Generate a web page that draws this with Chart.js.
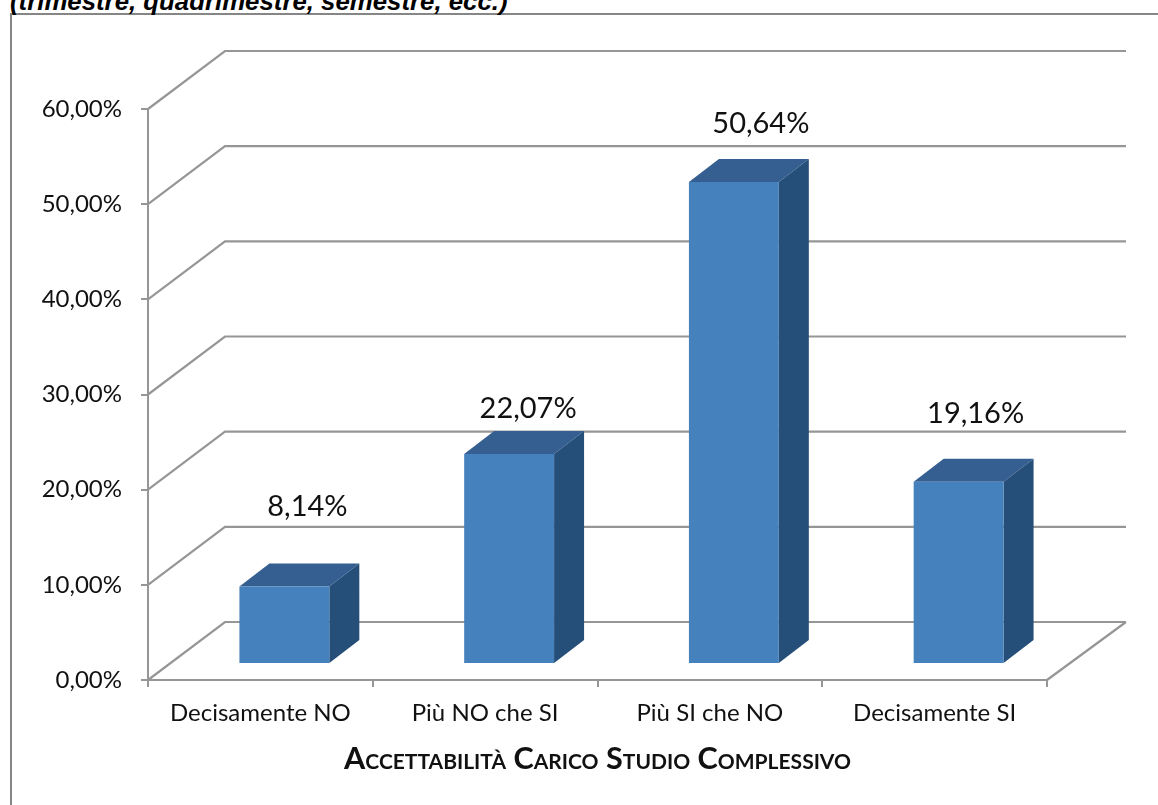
<!DOCTYPE html>
<html>
<head>
<meta charset="utf-8">
<title>Accettabilità Carico Studio Complessivo</title>
<script src="https://cdn.jsdelivr.net/npm/chart.js@4"></script>
<style>
    html, body { margin: 0; padding: 0; background: #fff; overflow: hidden; }
    #cornice { position: absolute; left: 10px; top: 13px; width: 2000px; height: 2000px; border: 2px solid #868686; }
    #sopra { position: absolute; left: 10px; top: -13px; font: italic bold 25.8px "Liberation Sans", Arial, sans-serif; color: #000; white-space: nowrap; }
    #grafico { position: absolute; left: 0; top: 0; }
</style>
</head>
<body>
<div id="cornice"></div>
<div id="sopra">(trimestre, quadrimestre, semestre, ecc.)</div>
<canvas id="grafico" width="1158" height="805"></canvas>
<script>
// dati del grafico
const categorie = ['Decisamente NO', 'Più NO che SI', 'Più SI che NO', 'Decisamente SI'];
const valori = [8.14, 22.07, 50.64, 19.16];
const assePercento = [0, 10, 20, 30, 40, 50, 60];
const titoloAsse = 'Accettabilità Carico Studio Complessivo';

const formato = v => v.toFixed(2).replace('.', ',') + '%';

// finta prospettiva
const profonditaX = 77, profonditaY = 58;   // parete di fondo
const spostaX = 24, spostaY = -16;          // barra rispetto al fronte
const latoX = 30, latoY = -23;              // spessore barra
const spostaEtichette = [[23, -80], [19, -45], [27, -58], [17, -68]];

const grigio = '#969696';

const pareti = {
    id: 'pareti',
    beforeDatasetsDraw(chart) {
        const { ctx, chartArea: a, scales: { y } } = chart;
        ctx.save();
        ctx.strokeStyle = grigio;
        ctx.lineWidth = 2.2;
        ctx.beginPath();
        assePercento.forEach(v => {
            const py = y.getPixelForValue(v);
            ctx.moveTo(a.left, py);
            ctx.lineTo(a.left + profonditaX, py - profonditaY);
            ctx.lineTo(a.right + profonditaX + 2, py - profonditaY);
        });
        // bordo destro del pavimento
        ctx.moveTo(a.right, y.getPixelForValue(0));
        ctx.lineTo(a.right + profonditaX + 2, y.getPixelForValue(0) - profonditaY);
        ctx.stroke();
        ctx.restore();
    },
    beforeDatasetDraw(chart) {
        const ctx = chart.ctx;
        ctx.save();
        ctx.translate(spostaX, spostaY);
        chart.getDatasetMeta(0).data.forEach(bar => {
            const l = bar.x - bar.width / 2, r = bar.x + bar.width / 2;
            // faccia superiore
            ctx.fillStyle = '#355E91';
            ctx.beginPath();
            ctx.moveTo(l, bar.y);
            ctx.lineTo(l + latoX, bar.y + latoY);
            ctx.lineTo(r + latoX, bar.y + latoY);
            ctx.lineTo(r, bar.y);
            ctx.closePath();
            ctx.fill();
            // faccia laterale
            ctx.fillStyle = '#254E79';
            ctx.beginPath();
            ctx.moveTo(r, bar.y);
            ctx.lineTo(r + latoX, bar.y + latoY);
            ctx.lineTo(r + latoX, bar.base + latoY);
            ctx.lineTo(r, bar.base);
            ctx.closePath();
            ctx.fill();
        });
    },
    afterDatasetDraw(chart) {
        chart.ctx.restore();
    },
    afterDatasetsDraw(chart) {
        const ctx = chart.ctx;
        ctx.save();
        ctx.font = '29px Lato, sans-serif';
        ctx.fillStyle = '#111';
        ctx.textAlign = 'center';
        ctx.textBaseline = 'middle';
        chart.getDatasetMeta(0).data.forEach((bar, i) => {
            ctx.fillText(formato(valori[i]), bar.x + spostaX + spostaEtichette[i][0], bar.y + spostaY + spostaEtichette[i][1]);
        });
        ctx.restore();
    }
};

new Chart(document.getElementById('grafico').getContext('2d'), {
    type: 'bar',
    data: {
        labels: categorie,
        datasets: [{
            data: valori,
            backgroundColor: '#4581BD',
            barPercentage: 0.4,
            categoryPercentage: 1,
            clip: false
        }]
    },
    options: {
        responsive: false,
        animation: false,
        layout: { padding: { top: 109, right: 111, left: 0, bottom: 0 } },
        plugins: { legend: { display: false }, tooltip: { enabled: false } },
        scales: {
            x: {
                afterFit: s => { s.height = 125; },
                border: { color: grigio, width: 2 },
                grid: { drawOnChartArea: false, drawTicks: true, tickLength: 7, color: grigio, lineWidth: 2 },
                ticks: { color: '#111', font: { family: 'Lato, sans-serif', size: 24 }, padding: 12, maxRotation: 0, autoSkip: false },
                title: {
                    display: true,
                    text: titoloAsse,
                    color: '#111',
                    // il controllo di Chart.js rifiuta small-caps in style, passa da weight
                    font: { family: 'Lato, sans-serif', size: 30.6, weight: 'small-caps bold' },
                    padding: { top: 0, bottom: 28 }
                }
            },
            y: {
                min: 0,
                max: 60,
                afterFit: s => { s.width = 148; },
                afterBuildTicks: s => { s.ticks = assePercento.map(v => ({ value: v })); },
                border: { color: grigio, width: 2 },
                grid: { drawOnChartArea: false, drawTicks: true, tickLength: 7, color: grigio, lineWidth: 2 },
                ticks: { color: '#111', font: { family: 'Lato, sans-serif', size: 24 }, padding: 19, callback: formato }
            }
        }
    },
    plugins: [pareti]
});
</script>
</body>
</html>
